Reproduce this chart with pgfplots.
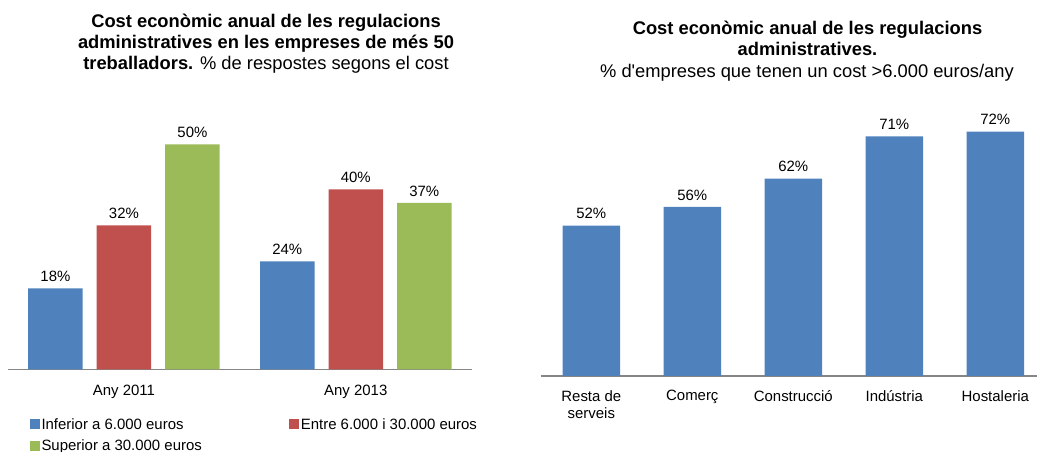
\documentclass[border=0pt]{standalone}
\usepackage{pgfplots}
\pgfplotsset{compat=1.18}
\usepackage{fontspec}
\setmainfont{Liberation Sans}
\newfontfamily\rawfont{Liberation Sans}[Ligatures=TeXOff]
\definecolor{cblue}{HTML}{4F81BD}
\definecolor{cred}{HTML}{C0504D}
\definecolor{cgreen}{HTML}{9BBB59}
\definecolor{axgray}{HTML}{868686}
\newcommand\lbl{\fontsize{15}{17.5}\selectfont}
\newcommand\ttl{\fontsize{18.4}{21}\selectfont}
\begin{document}
\begin{tikzpicture}[x=1bp,y=1bp]
\path[use as bounding box] (0,0) rectangle (1037,452);
% titles
\node[anchor=base,font=\ttl\bfseries] at (266,424.7) {Cost econòmic anual de les regulacions};
\node[anchor=base,font=\ttl\bfseries] at (266,403.7) {administratives en les empreses de més 50};
\node[anchor=base,font=\ttl] at (266,382.7) {\textbf{treballadors.} \% de respostes segons el cost};
\node[anchor=base,font=\ttl\bfseries] at (807.5,417.7) {Cost econòmic anual de les regulacions};
\node[anchor=base,font=\ttl\bfseries] at (807.5,396.7) {administratives.};
\node[anchor=base,font=\ttl] at (807,374.7) {\% d{\rawfont '}empreses que tenen un cost >6.000 euros/any};

\begin{axis}[at={(8bp,82.7bp)}, anchor=south west, scale only axis,
  width=463.7bp, height=270bp,
  ybar=14bp, bar width=54.5bp,
  xmin=-0.5, xmax=1.5, ymin=0, ymax=60,
  axis x line*=bottom, hide y axis,
  x axis line style={draw=axgray, line width=1.3bp, -},
  xtick={0,1}, xticklabels={Any 2011, Any 2013},
  major tick length=0pt,
  ticklabel style={font=\lbl},
  xticklabel style={yshift=-12bp},
  /pgf/number format/assume math mode=true,
  nodes near coords={\pgfmathprintnumber{\pgfplotspointmeta}\%},
  nodes near coords style={font=\lbl, yshift=3bp},
  legend columns=2,
  legend cell align=left,
  legend image code/.code={\fill[#1] (0bp,-5bp) rectangle (10bp,5bp);},
  legend style={draw=none, at={(0.046,-0.173)}, anchor=north west,
    font=\lbl, inner sep=0pt, row sep=5bp,
    /tikz/every even column/.append style={column sep=85bp}},
]
\addplot[fill=cblue, draw=none] coordinates {(0,18) (1,24)};
\addplot[fill=cred, draw=none] coordinates {(0,32) (1,40)};
\addplot[fill=cgreen, draw=none] coordinates {(0,50) (1,37)};
\legend{Inferior a 6.000 euros, Entre 6.000 i 30.000 euros, Superior a 30.000 euros}
\end{axis}

\begin{axis}[at={(540.8bp,76bp)}, anchor=south west, scale only axis,
  width=496.2bp, height=282bp,
  ybar, bar width=57.5bp,
  xmin=-0.5, xmax=4.413, ymin=20, ymax=80,
  axis x line*=bottom, hide y axis,
  x axis line style={draw=axgray, line width=1.3bp, -},
  xtick={0,1,2,3,4},
  xticklabels={{Resta de\\serveis},{Comerç\\\mbox{}},{Construcció\\\mbox{}},{Indústria\\\mbox{}},{Hostaleria\\\mbox{}}},
  major tick length=0pt,
  ticklabel style={font=\lbl},
  xticklabel style={yshift=-11bp, align=center},
  /pgf/number format/assume math mode=true,
  nodes near coords={\pgfmathprintnumber{\pgfplotspointmeta}\%},
  nodes near coords style={font=\lbl, yshift=3bp},
]
\addplot[fill=cblue, draw=none] coordinates {(0,52) (1,56) (2,62) (3,71) (4,72)};
\end{axis}
\end{tikzpicture}
\end{document}
